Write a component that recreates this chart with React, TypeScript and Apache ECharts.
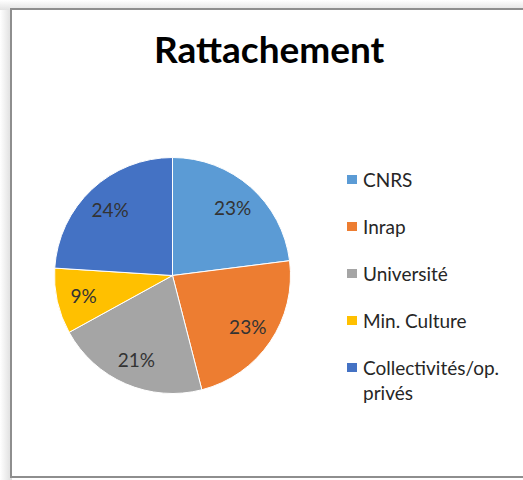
import React, { useEffect, useRef } from "react";
import * as echarts from "echarts";

const titleText = "Rattachement";
const categories = ["CNRS", "Inrap", "Université", "Min. Culture", "Collectivités/op. privés"];
const values = [23, 23, 21, 9, 24];
const colors = ["#5B9BD5", "#ED7D31", "#A5A5A5", "#FFC000", "#4472C4"];

export default function App() {
  const ref = useRef<HTMLDivElement>(null);
  useEffect(() => {
    const chart = echarts.init(ref.current!, null, { renderer: "svg" });
    const center = [172.5, 275.5];
    const data = categories.map((name, i) => ({
      name,
      value: values[i],
      itemStyle: { color: colors[i] },
    }));
    const labelData = categories.map((name, i) => ({
      name,
      value: values[i],
      itemStyle: { color: "rgba(0,0,0,0)" },
    }));
    const lastName = categories[categories.length - 1];
    const legendText = {
      fontFamily: "Lato",
      fontSize: 19,
      lineHeight: 25,
      color: "#262626",
    };
    const legendBase = {
      orient: "vertical",
      left: 345,
      padding: 0,
      icon: "rect",
      itemWidth: 12,
      itemHeight: 11,
      itemGap: 22,
      textStyle: legendText,
    };
    chart.setOption({
      animation: false,
      backgroundColor: "#ffffff",
      graphic: [
        {
          type: "rect",
          z: -10,
          shape: { x: 0, y: 0, width: 12, height: 480 },
          style: {
            fill: new echarts.graphic.LinearGradient(0, 0, 1, 0, [
              { offset: 0, color: "#ffffff" },
              { offset: 1, color: "#dcdcdc" },
            ]),
          },
        },
        {
          type: "rect",
          z: -10,
          shape: { x: 0, y: 0, width: 523, height: 10 },
          style: {
            fill: new echarts.graphic.LinearGradient(0, 0, 0, 1, [
              { offset: 0, color: "#ffffff" },
              { offset: 1, color: "#e2e2e2" },
            ]),
          },
        },
        {
          type: "rect",
          z: -5,
          shape: { x: 11, y: 9, width: 530, height: 468 },
          style: { fill: "#ffffff", stroke: "#8e8e8e", lineWidth: 2 },
        },
      ],
      title: {
        text: titleText,
        left: 154,
        top: 30,
        padding: 0,
        textStyle: {
          fontFamily: "Lato",
          fontWeight: "bold",
          fontSize: 37,
          color: "#000000",
        },
      },
      legend: [
        {
          ...legendBase,
          top: 167,
          data: categories.slice(0, categories.length - 1),
        },
        {
          ...legendBase,
          top: 330,
          data: [lastName],
          formatter: (name: string) => "\n" + name.replace("/op. ", "/op.\n"),
        },
      ],
      series: [
        {
          type: "pie",
          center,
          radius: 118,
          startAngle: 90,
          clockwise: true,
          silent: true,
          data,
          label: { show: false },
          labelLine: { show: false },
          itemStyle: { borderColor: "#ffffff", borderWidth: 1 },
        },
        {
          type: "pie",
          center,
          radius: [58, 118],
          startAngle: 90,
          clockwise: true,
          silent: true,
          data: labelData,
          labelLine: { show: false },
          label: {
            show: true,
            position: "inside",
            formatter: (p: any) => p.value + "%",
            fontFamily: "Lato",
            fontSize: 19,
            color: "#333333",
          },
        },
      ],
    });
    return () => chart.dispose();
  }, []);
  return (
    <div
      ref={ref}
      style={{ position: "fixed", left: 0, top: 0, width: 523, height: 480 }}
    />
  );
}
